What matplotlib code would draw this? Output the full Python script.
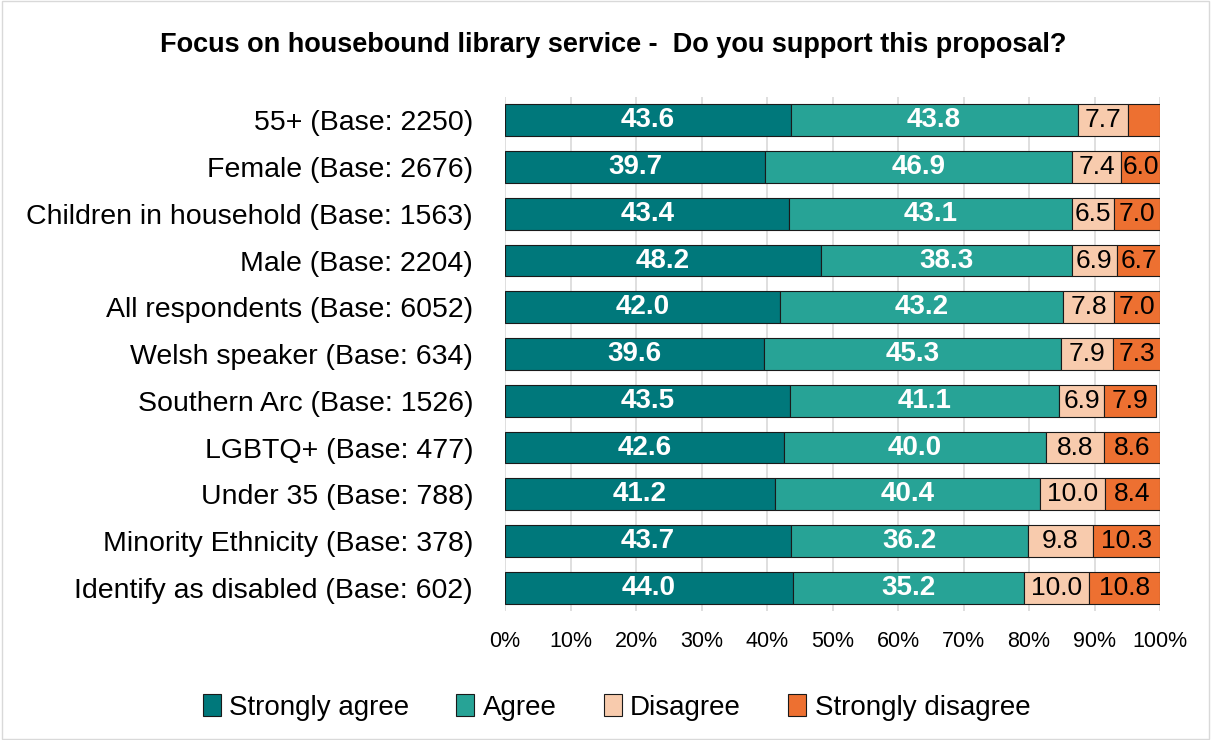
import matplotlib
matplotlib.use("Agg")
import matplotlib.pyplot as plt
import matplotlib.ticker as mticker
import numpy as np

plt.rcParams["font.family"] = ["Liberation Sans", "DejaVu Sans"]

# --- data (top row first) ---
categories = [
    "55+ (Base: 2250)",
    "Female (Base: 2676)",
    "Children in household (Base: 1563)",
    "Male (Base: 2204)",
    "All respondents (Base: 6052)",
    "Welsh speaker (Base: 634)",
    "Southern Arc (Base: 1526)",
    "LGBTQ+ (Base: 477)",
    "Under 35 (Base: 788)",
    "Minority Ethnicity (Base: 378)",
    "Identify as disabled (Base: 602)",
]
strongly_agree = [43.6, 39.7, 43.4, 48.2, 42.0, 39.6, 43.5, 42.6, 41.2, 43.7, 44.0]
agree = [43.8, 46.9, 43.1, 38.3, 43.2, 45.3, 41.1, 40.0, 40.4, 36.2, 35.2]
disagree = [7.7, 7.4, 6.5, 6.9, 7.8, 7.9, 6.9, 8.8, 10.0, 9.8, 10.0]
strongly_disagree = [4.9, 6.0, 7.0, 6.7, 7.0, 7.3, 7.9, 8.6, 8.4, 10.3, 10.8]
series_names = ["Strongly agree", "Agree", "Disagree", "Strongly disagree"]
colors = ["#00787B", "#27A396", "#F8CBAD", "#ED7031"]
label_colors = ["white", "white", "black", "black"]
label_weight = ["bold", "bold", "normal", "normal"]
# the 55+ "strongly disagree" value has no label in the original
show_label = [[True] * 11, [True] * 11, [True] * 11, [False] + [True] * 10]

fig = plt.figure(figsize=(12.11, 7.40), dpi=100)
ax = fig.add_axes([0.417, 0.174, 0.541, 0.695])

y = np.arange(len(categories))
left = np.zeros(len(categories))
all_series = [strongly_agree, agree, disagree, strongly_disagree]
for i, vals in enumerate(all_series):
    vals = np.array(vals)
    ax.barh(y, vals, left=left, height=0.68, color=colors[i], edgecolor="#1a1a1a",
            linewidth=0.8, label=series_names[i], zorder=3)
    for j, v in enumerate(vals):
        if show_label[i][j]:
            fs = 20 if i < 2 else 19
            ax.text(left[j] + v / 2, y[j], f"{v:.1f}", ha="center", va="center",
                    color=label_colors[i], fontsize=fs, fontweight=label_weight[i], zorder=4)
    left += vals

ax.set_ylim(len(categories) - 0.5, -0.5)
ax.set_xlim(0, 100)
ax.set_yticks(y)
ax.set_yticklabels(categories, fontsize=20.5)
ax.xaxis.set_major_locator(mticker.MultipleLocator(10))
ax.xaxis.set_major_formatter(mticker.FuncFormatter(lambda v, p: f"{v:.0f}%"))
ax.tick_params(axis="x", labelsize=15.5, length=0, pad=14)
ax.tick_params(axis="y", length=0, pad=23)
ax.grid(axis="x", color="#d9d9d9", linewidth=1.2, zorder=0)
for s in ax.spines.values():
    s.set_visible(False)

fig.suptitle("Focus on housebound library service -  Do you support this proposal?",
             x=0.506, y=0.957, fontsize=19.5, fontweight="bold")

fig.legend(loc="lower center", bbox_to_anchor=(0.509, 0.0), ncol=4, frameon=False,
           fontsize=20, handlelength=0.65, handleheight=0.85, handletextpad=0.3,
           columnspacing=1.7, borderaxespad=0.3)

fig.patches.append(plt.Rectangle((0.002, 0.002), 0.996, 0.996, transform=fig.transFigure,
                                 fill=False, edgecolor="#d9d9d9", linewidth=1))

fig.savefig("out.png", dpi=100)
